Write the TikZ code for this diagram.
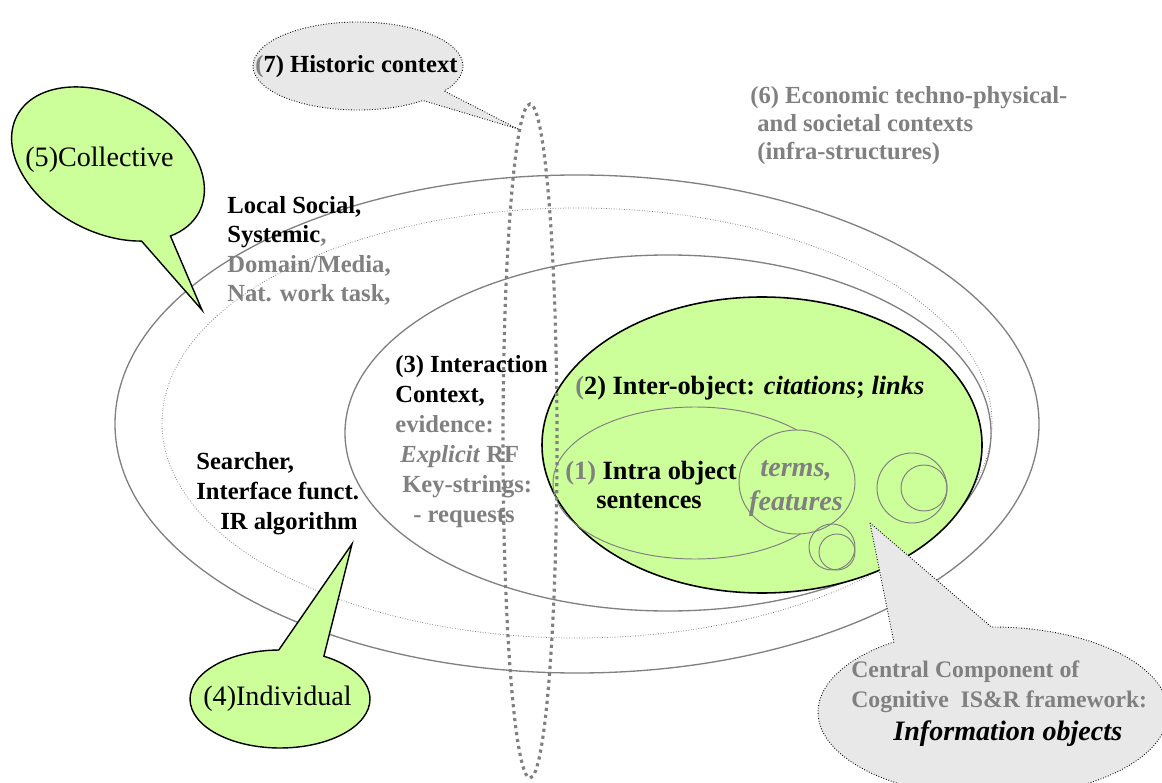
\documentclass[tikz,border=0pt]{standalone}
\usepackage{fontspec}
\setmainfont{Liberation Serif}
\usepackage{xcolor}
\usepackage{tikz}
\usetikzlibrary{shapes.callouts}
\definecolor{leafgreen}{RGB}{204,255,153}
\definecolor{midgray}{RGB}{128,128,128}
\definecolor{palegray}{RGB}{232,232,232}

\begin{document}
\begin{tikzpicture}[x=0.02cm, y=-0.02cm,
  ring/.style={draw=midgray, line width=0.75pt},
  thinring/.style={draw=midgray, line width=0.55pt},
  lbl/.style={font=\fontsize{14}{16.8}\selectfont\bfseries, align=left, inner sep=0pt, anchor=base west},
  glbl/.style={lbl, text=midgray},
  bubbletxt/.style={font=\fontsize{16}{19}\selectfont, inner sep=0pt, anchor=base west},
  greenbubble/.style={ellipse callout, draw=black, fill=leafgreen, line width=0.8pt, inner sep=0pt},
  graybubble/.style={ellipse callout, draw=black, fill=palegray, densely dotted, line width=0.5pt, inner sep=0pt}]
\useasboundingbox (0,0) rectangle (1162,783);

% context rings
\draw[ring] (577,424) ellipse [x radius=462, y radius=249];
\draw[midgray, line width=0.45pt, densely dotted] (577,423) ellipse [x radius=415, y radius=215];
\draw[ring] (668,433) ellipse [x radius=323, y radius=178];

% information objects
\draw[fill=leafgreen, line width=0.9pt] (762,445) ellipse [x radius=220, y radius=148];
\draw[thinring] (695,483) ellipse [x radius=142, y radius=76];
\draw[thinring, fill=leafgreen] (797,482) ellipse [x radius=58, y radius=52];
\draw[thinring] (832,547) circle [radius=23];
\draw[thinring] (837,552) circle [radius=18];
\draw[thinring] (912,488) circle [radius=35];
\draw[thinring] (924,488) circle [radius=23];

% historic context
\draw[midgray, line width=1.8pt, dash pattern=on 1.8pt off 2.2pt] (530,441) ellipse [x radius=27, y radius=337];

% bubbles
\node[graybubble, minimum width=4.2cm, minimum height=1.76cm, callout absolute pointer={(518,129)}, callout pointer arc=17] (hist) at (358,66) {};
\node[greenbubble, rotate=-28, minimum width=4.12cm, minimum height=2.72cm, callout absolute pointer={(202,310)}, callout pointer arc=20] (coll) at (108,164) {};
\node[greenbubble, minimum width=3.6cm, minimum height=1.96cm, callout absolute pointer={(352,544)}, callout pointer arc=30] (indiv) at (280,699) {};
\node[graybubble, minimum width=7cm, minimum height=3.4cm, callout absolute pointer={(870,523)}, callout pointer arc=34] (central) at (993,712) {};

% texts (multi-line nodes sit on their last line)
\node[lbl] (histtxt) at (255,73) {{\color{midgray}(}7) Historic context};
\node[bubbletxt] (colltxt) at (25,167) {(5)Collective};
\node[bubbletxt] (indivtxt) at (203,705) {(4)Individual};
\node[glbl, font=\fontsize{14}{16.2}\selectfont\bfseries] (econ) at (750,160) {(6) Economic techno-physical-\\\hspace*{0.14cm}and societal contexts\\\hspace*{0.14cm}(infra-structures)};
\node[lbl] (social) at (227,302) {Local Social,\\Systemic{\color{midgray},}\\{\color{midgray}Domain/Media,}\\{\color{midgray}Nat. work task,}};
\node[lbl] (searcher) at (196,529) {Searcher,\\Interface funct.\\\hspace*{0.48cm}IR algorithm};
\node[lbl, font=\fontsize{14}{17}\selectfont\bfseries] (interact) at (395,522) {(3) Interaction\\Context,\\{\color{midgray}evidence:}\\{\color{midgray}\hspace*{0.1cm}\textit{Explicit} RF}\\{\color{midgray}\hspace*{0.14cm}Key-strings:}\\{\color{midgray}\hspace*{0.36cm}- requests}};
\node[lbl, font=\fontsize{15}{16}\selectfont\bfseries] (inter) at (575,395) {{\color{midgray}(}2) Inter-object: \textit{citations}; \textit{links}};
\node[lbl, font=\fontsize{15}{16}\selectfont\bfseries] (intra) at (565,508) {{\color{midgray}(1)} Intra object\\\hspace*{0.62cm}sentences};
\node[font=\fontsize{16}{19.3}\selectfont\bfseries\itshape, text=midgray, align=center, inner sep=0pt, anchor=base] (terms) at (796,510) {terms,\\features};
\node[glbl, font=\fontsize{13.5}{17}\selectfont\bfseries] (centraltxt) at (851,707) {Central Component of\\Cognitive\ \ IS\&R framework:};
\node[lbl, font=\fontsize{16}{19}\selectfont\bfseries\itshape] (infoobj) at (893,740) {Information objects};
\end{tikzpicture}
\end{document}
